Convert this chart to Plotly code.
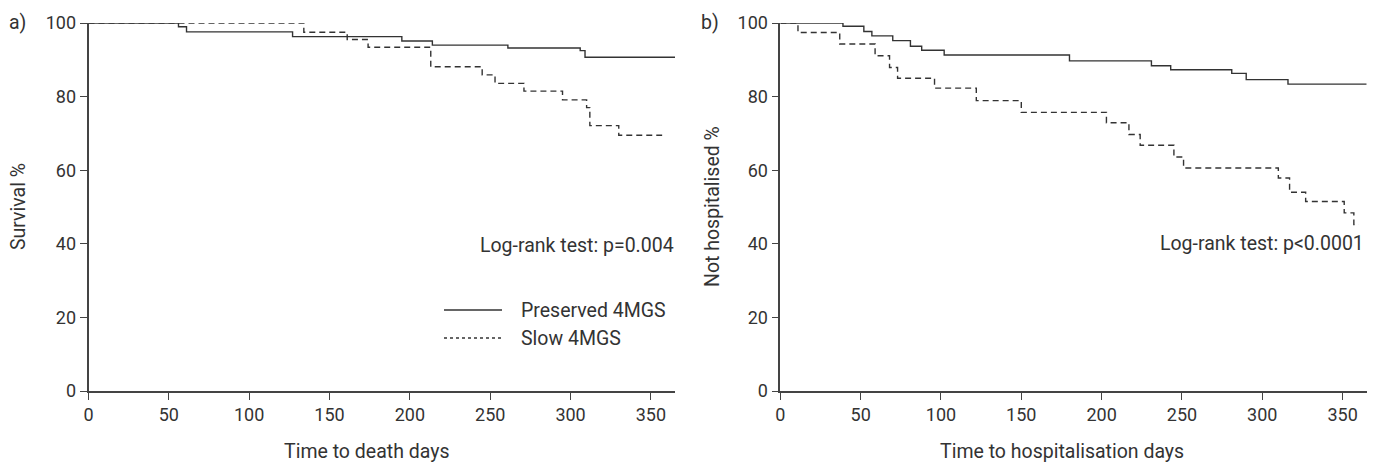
import plotly.graph_objects as go

# panel a) time to death
death_pres_days = [0, 56, 61, 127, 195, 214, 261, 306, 309, 365]
death_pres_surv = [100, 99.0, 97.6, 96.3, 95.1, 94.0, 93.2, 92.5, 90.7, 90.7]
death_slow_days = [0, 134, 161, 174, 213, 245, 253, 271, 295, 310, 312, 330, 357]
death_slow_surv = [100, 97.5, 95.5, 93.4, 88.1, 85.9, 83.6, 81.5, 79.1, 77.0, 72.1, 69.5, 69.5]

# panel b) time to hospitalisation
hosp_pres_days = [0, 39, 52, 57, 70, 81, 88, 102, 180, 231, 243, 281, 290, 316, 365]
hosp_pres_surv = [100, 99.1, 97.7, 96.5, 95.2, 93.7, 92.6, 91.3, 89.7, 88.4, 87.3, 86.3, 84.6, 83.4, 83.4]
hosp_slow_days = [0, 11, 37, 59, 68, 73, 96, 122, 150, 203, 217, 224, 245, 251, 310, 317, 327, 351, 357, 360]
hosp_slow_surv = [100, 97.4, 94.3, 91.1, 87.9, 85.0, 82.3, 78.9, 75.7, 72.9, 69.7, 66.8, 63.6, 60.6,
                  57.9, 54.0, 51.5, 48.4, 45.2, 45.2]

x_ticks = [0, 50, 100, 150, 200, 250, 300, 350]
y_ticks = [0, 20, 40, 60, 80, 100]

W, H = 1380, 463
INK = "#333333"
FONT = "Roboto"
TXT = 19.5


def px(x, y):
    return x / W, 1 - y / H


fig = go.Figure()

line_solid = dict(color=INK, width=1.4, shape="hv")
line_dash = dict(color=INK, width=1.4, shape="hv", dash="6px,4px")

fig.add_trace(go.Scatter(x=death_pres_days, y=death_pres_surv, mode="lines", line=line_solid,
                         xaxis="x", yaxis="y", cliponaxis=False, showlegend=False))
fig.add_trace(go.Scatter(x=death_slow_days, y=death_slow_surv, mode="lines", line=line_dash,
                         xaxis="x", yaxis="y", cliponaxis=False, showlegend=False))
fig.add_trace(go.Scatter(x=hosp_pres_days, y=hosp_pres_surv, mode="lines", line=line_solid,
                         xaxis="x2", yaxis="y2", cliponaxis=False, showlegend=False))
fig.add_trace(go.Scatter(x=hosp_slow_days, y=hosp_slow_surv, mode="lines", line=line_dash,
                         xaxis="x2", yaxis="y2", cliponaxis=False, showlegend=False))

axis_common = dict(showgrid=False, zeroline=False, showline=True, linecolor="#444444", linewidth=1.6,
                   ticks="outside", ticklen=7, tickwidth=1.4, tickcolor="#444444",
                   tickfont=dict(family=FONT, size=18, color=INK), automargin=False)

ydom = [(H - 391) / H, (H - 23) / H]
fig.update_layout(
    width=W, height=H,
    margin=dict(l=0, r=0, t=0, b=0),
    paper_bgcolor="white", plot_bgcolor="white",
    font=dict(family=FONT, size=TXT, color=INK),
    xaxis=dict(domain=[88.5 / W, 675 / W], range=[0, 365], tickvals=x_ticks, anchor="y", **axis_common),
    yaxis=dict(domain=ydom, range=[0, 100], tickvals=y_ticks, anchor="x", **axis_common),
    xaxis2=dict(domain=[780.3 / W, 1366.7 / W], range=[0, 365], tickvals=x_ticks, anchor="y2", **axis_common),
    yaxis2=dict(domain=ydom, range=[0, 100], tickvals=y_ticks, anchor="x2", **axis_common),
)


def note(text, x, y, xanchor="center", textangle=0, size=TXT):
    ax, ay = px(x, y)
    fig.add_annotation(text=text, x=ax, y=ay, xref="paper", yref="paper", showarrow=False,
                       xanchor=xanchor, yanchor="middle", textangle=textangle,
                       font=dict(family=FONT, size=size, color=INK))


note("a)", 17, 22)
note("b)", 710, 22)
note("Survival %", 18, 207, textangle=-90)
note("Not hospitalised %", 712, 207, textangle=-90)
note("Time to death days", 366, 451)
note("Time to hospitalisation days", 1062, 451)
note("Log-rank test: p=0.004", 676, 245, xanchor="right")
note("Log-rank test: p<0.0001", 1366, 243, xanchor="right")

# legend (panel a)
for label, ypos, dash in [("Preserved 4MGS", 310, "solid"), ("Slow 4MGS", 338, "3px,3px")]:
    x0, y0 = px(444, ypos)
    x1, _ = px(502, ypos)
    fig.add_shape(type="line", xref="paper", yref="paper", x0=x0, x1=x1, y0=y0, y1=y0,
                  line=dict(color=INK, width=1.4, dash=dash))
    note(label, 519, ypos, xanchor="left")

# drop the browser's default body margin so the figure sits at the page corner
fig.write_html("out.html", config={"displayModeBar": False},
               post_script="document.body.style.margin='0';")
